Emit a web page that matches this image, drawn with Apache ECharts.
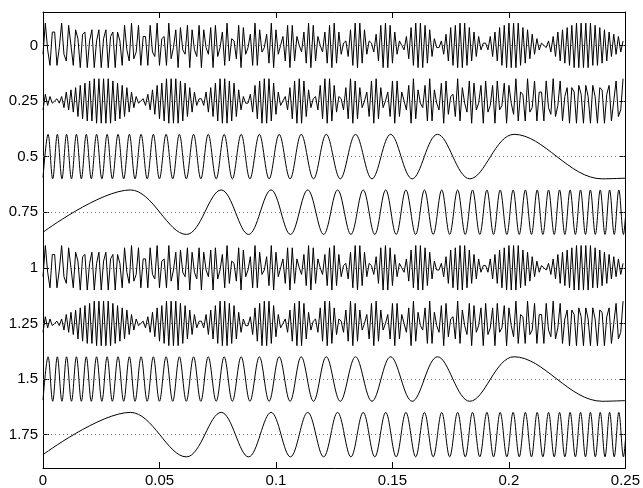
<!DOCTYPE html>
<html>
<head>
<meta charset="utf-8">
<script src="https://cdn.jsdelivr.net/npm/echarts/dist/echarts.min.js"></script>
<style>
  html, body { margin: 0; padding: 0; background: #fff; }
  #chart { width: 643px; height: 488px; }
</style>
</head>
<body>
<div id="chart"></div>
<script>
// rows are 0.25 s slices of the same signal, stacked by start time
const sampleRate = 1000
const rowLevels = [0, 0.25, 0.5, 0.75, 1, 1.25, 1.5, 1.75]
const yTickLabels = ['0', '0.25', '0.5', '0.75', '1', '1.25', '1.5', '1.75']
const xTicks = [0, 0.05, 0.1, 0.15, 0.2, 0.25]
const xTickLabels = ['0', '0.05', '0.1', '0.15', '0.2', '0.25']

// dense rows: one value per sample (1 ms)
const row0Samples = [
  -0.04, 0.10, -0.02, -0.09, 0.06, 0.06, -0.09, -0.01, 0.10, -0.04,
  -0.07, 0.09, 0.00, -0.09, 0.07, 0.03, -0.10, 0.05, 0.06, -0.10,
  0.02, 0.07, -0.10, 0.02, 0.07, -0.10, 0.03, 0.07, -0.10, 0.04,
  0.06, -0.10, 0.06, 0.02, -0.09, 0.09, -0.02, -0.07, 0.10, -0.06,
  -0.03, 0.09, -0.09, 0.04, 0.04, -0.09, 0.09, -0.03, -0.05, 0.10,
  -0.09, 0.03, 0.04, -0.09, 0.10, -0.06, -0.01, 0.07, -0.10, 0.08,
  -0.02, -0.04, 0.09, -0.10, 0.07, -0.02, -0.05, 0.09, -0.10, 0.07,
  -0.01, -0.04, 0.08, -0.10, 0.09, -0.05, -0.01, 0.06, -0.09, 0.10,
  -0.07, 0.03, 0.02, -0.06, 0.09, -0.10, 0.08, -0.04, -0.01, 0.05,
  -0.09, 0.10, -0.09, 0.07, -0.03, -0.01, 0.05, -0.08, 0.10, -0.10,
  0.07, -0.04, 0.00, 0.04, -0.07, 0.09, -0.10, 0.09, -0.07, 0.04,
  0.00, -0.03, 0.06, -0.08, 0.10, -0.10, 0.09, -0.07, 0.04, 0.00,
  -0.03, 0.06, -0.08, 0.09, -0.10, 0.10, -0.08, 0.06, -0.04, 0.01,
  0.02, -0.05, 0.07, -0.09, 0.10, -0.10, 0.10, -0.08, 0.07, -0.04,
  0.02, 0.01, -0.03, 0.05, -0.07, 0.09, -0.10, 0.10, -0.10, 0.09,
  -0.08, 0.06, -0.04, 0.02, 0.00, -0.02, 0.04, -0.06, 0.08, -0.09,
  0.10, -0.10, 0.10, -0.10, 0.09, -0.08, 0.07, -0.05, 0.03, -0.01,
  -0.01, 0.02, -0.04, 0.05, -0.07, 0.08, -0.09, 0.09, -0.10, 0.10,
  -0.10, 0.10, -0.09, 0.08, -0.07, 0.06, -0.05, 0.04, -0.02, 0.01,
  0.01, -0.02, 0.04, -0.05, 0.06, -0.07, 0.08, -0.09, 0.09, -0.10,
  0.10, -0.10, 0.10, -0.10, 0.10, -0.09, 0.08, -0.08, 0.07, -0.06,
  0.05, -0.04, 0.03, -0.02, 0.01, 0.00, -0.01, 0.02, -0.03, 0.04,
  -0.05, 0.06, -0.07, 0.07, -0.08, 0.08, -0.09, 0.09, -0.10, 0.10,
  -0.10, 0.10, -0.10, 0.10, -0.10, 0.10, -0.09, 0.09, -0.09, 0.08,
  -0.08, 0.07, -0.07, 0.06, -0.05, 0.05, -0.04, 0.04, -0.03, 0.02
]

const row25Samples = [
  -0.04, 0.03, -0.02, 0.02, -0.01, 0.00, 0.01, -0.01,
  0.02, -0.03, 0.04, -0.04, 0.05, -0.05, 0.06, -0.07, 0.07, -0.08,
  0.08, -0.09, 0.09, -0.09, 0.10, -0.10, 0.10, -0.10, 0.10, -0.10,
  0.10, -0.10, 0.09, -0.09, 0.08, -0.08, 0.07, -0.07, 0.06, -0.05,
  0.04, -0.03, 0.02, -0.01, 0.00, 0.01, -0.02, 0.03, -0.04, 0.05,
  -0.06, 0.07, -0.08, 0.08, -0.09, 0.10, -0.10, 0.10, -0.10, 0.10,
  -0.10, 0.09, -0.09, 0.08, -0.07, 0.06, -0.05, 0.04, -0.02, 0.01,
  0.01, -0.02, 0.04, -0.05, 0.06, -0.07, 0.08, -0.09, 0.10, -0.10,
  0.10, -0.10, 0.09, -0.09, 0.08, -0.07, 0.05, -0.04, 0.02, -0.01,
  -0.01, 0.03, -0.05, 0.07, -0.08, 0.09, -0.10, 0.10, -0.10, 0.10,
  -0.09, 0.08, -0.06, 0.04, -0.02, 0.00, 0.02, -0.04, 0.06, -0.08,
  0.09, -0.10, 0.10, -0.10, 0.09, -0.07, 0.05, -0.03, 0.01, 0.02,
  -0.04, 0.07, -0.08, 0.10, -0.10, 0.10, -0.09, 0.07, -0.05, 0.02,
  0.01, -0.04, 0.06, -0.08, 0.10, -0.10, 0.09, -0.08, 0.06, -0.03,
  0.00, 0.04, -0.07, 0.09, -0.10, 0.10, -0.08, 0.06, -0.03, 0.00,
  0.04, -0.07, 0.09, -0.10, 0.09, -0.07, 0.04, 0.00, -0.04, 0.07,
  -0.10, 0.10, -0.08, 0.05, -0.01, -0.03, 0.07, -0.09, 0.10, -0.09,
  0.05, -0.01, -0.04, 0.08, -0.10, 0.09, -0.06, 0.02, 0.03, -0.07,
  0.10, -0.09, 0.06, -0.01, -0.05, 0.09, -0.10, 0.08, -0.04, -0.01,
  0.07, -0.10, 0.09, -0.05, -0.02, 0.07, -0.10, 0.09, -0.04, -0.02,
  0.08, -0.10, 0.07, -0.01, -0.06, 0.10, -0.09, 0.04, 0.03, -0.09,
  0.10, -0.05, -0.03, 0.09, -0.09, 0.04, 0.04, -0.09, 0.09, -0.03,
  -0.06, 0.10, -0.07, -0.02, 0.09, -0.09, 0.02, 0.06, -0.10, 0.06,
  0.04, -0.10, 0.07, 0.03, -0.10, 0.07, 0.02, -0.10, 0.07, 0.02,
  -0.10, 0.06, 0.05, -0.10, 0.03, 0.07, -0.09, 0.00, 0.09, -0.07,
  -0.04, 0.10
]

// slow rows: time of each peak / trough (s) and its height
const row50Times = [
  0, 0.00218, 0.00416, 0.00615, 0.00813, 0.01012, 0.01223, 0.01435, 0.01646, 0.01858,
  0.02074, 0.02300, 0.02527, 0.02753, 0.02979, 0.03221, 0.03464, 0.03708, 0.03951, 0.04210,
  0.04473, 0.04736, 0.04998, 0.05284, 0.05569, 0.05854, 0.06152, 0.06463, 0.06774, 0.07093,
  0.07435, 0.07776, 0.08129, 0.08506, 0.08882, 0.09288, 0.09706, 0.10139, 0.10607, 0.11084,
  0.11613, 0.12160, 0.12761, 0.13415, 0.14122, 0.14922, 0.15848, 0.16935, 0.18320, 0.20221,
  0.24000, 0.25
]
const row50Values = [
  -0.095, 0.1, -0.1, 0.1, -0.1, 0.1, -0.1, 0.1, -0.1, 0.1,
  -0.1, 0.1, -0.1, 0.1, -0.1, 0.1, -0.1, 0.1, -0.1, 0.1,
  -0.1, 0.1, -0.1, 0.1, -0.1, 0.1, -0.1, 0.1, -0.1, 0.1,
  -0.1, 0.1, -0.1, 0.1, -0.1, 0.1, -0.1, 0.1, -0.1, 0.1,
  -0.1, 0.1, -0.1, 0.1, -0.1, 0.1, -0.1, 0.1, -0.1, 0.1,
  -0.1, -0.097
]

const row75Times = [
  0, 0.0375, 0.06155, 0.07648, 0.08823, 0.0979, 0.10621, 0.11363, 0.12046, 0.12646,
  0.13217, 0.13745, 0.14242, 0.14711, 0.1516, 0.15578, 0.15997, 0.16374, 0.1675, 0.17115,
  0.17456, 0.17798, 0.18126, 0.18438, 0.18749, 0.19055, 0.1934, 0.19625, 0.1991, 0.2018,
  0.20443, 0.20706, 0.20968, 0.21214, 0.21457, 0.21701, 0.21944, 0.22174, 0.22401, 0.22627,
  0.22853, 0.23074, 0.23286, 0.23497, 0.23709, 0.2392, 0.24124, 0.24322, 0.2452, 0.24718,
  0.24917, 0.25
]
const row75Values = [
  -0.09, 0.1, -0.1, 0.1, -0.1, 0.1, -0.1, 0.1, -0.1, 0.1,
  -0.1, 0.1, -0.1, 0.1, -0.1, 0.1, -0.1, 0.1, -0.1, 0.1,
  -0.1, 0.1, -0.1, 0.1, -0.1, 0.1, -0.1, 0.1, -0.1, 0.1,
  -0.1, 0.1, -0.1, 0.1, -0.1, 0.1, -0.1, 0.1, -0.1, 0.1,
  -0.1, 0.1, -0.1, 0.1, -0.1, 0.1, -0.1, 0.1, -0.1, 0.1,
  -0.1, -0.025
]

const FONT = '"Liberation Sans", Arial, Helvetica, sans-serif'

// y axis is flipped, so a positive value is drawn upwards
function sampledRow(values, level) {
  return values.map((v, i) => [i / sampleRate, level - v])
}
function extremaRow(times, values, level) {
  return times.map((t, i) => [t, level - values[i]])
}

const rows = [
  { level: 0, data: sampledRow(row0Samples, 0), smooth: false },
  { level: 0.25, data: sampledRow(row25Samples, 0.25), smooth: false },
  { level: 0.5, data: extremaRow(row50Times, row50Values, 0.5), smooth: 0.36 },
  { level: 0.75, data: extremaRow(row75Times, row75Values, 0.75), smooth: 0.36 },
  { level: 1, data: sampledRow(row0Samples, 1), smooth: false },
  { level: 1.25, data: sampledRow(row25Samples, 1.25), smooth: false },
  { level: 1.5, data: extremaRow(row50Times, row50Values, 1.5), smooth: 0.36 },
  { level: 1.75, data: extremaRow(row75Times, row75Values, 1.75), smooth: 0.36 }
]

const blackLine = { color: '#000', width: 1 }

function xAxisDef(position, showLabel) {
  return {
    type: 'value',
    position: position,
    min: 0,
    max: 0.25,
    interval: 0.05,
    axisLine: { show: true, onZero: false, lineStyle: blackLine },
    axisTick: { show: true, inside: true, length: 6, lineStyle: blackLine },
    axisLabel: {
      show: showLabel,
      color: '#000',
      fontFamily: FONT,
      fontSize: 15,
      margin: 5,
      formatter: (v) => xTickLabels[xTicks.findIndex((t) => Math.abs(t - v) < 1e-9)]
    },
    splitLine: { show: false }
  }
}

function yAxisDef(position, showLabel) {
  return {
    type: 'value',
    position: position,
    inverse: true,
    min: -0.15,
    max: 1.9,
    axisLine: { show: true, onZero: false, lineStyle: blackLine },
    axisTick: { show: true, inside: true, length: 6, lineStyle: blackLine, customValues: rowLevels },
    axisLabel: {
      show: showLabel,
      color: '#000',
      fontFamily: FONT,
      fontSize: 15,
      margin: 5,
      customValues: rowLevels,
      formatter: (v) => yTickLabels[rowLevels.indexOf(v)]
    },
    splitLine: { show: false }
  }
}

const chart = echarts.init(document.getElementById('chart'))
chart.setOption({
  animation: false,
  backgroundColor: '#fff',
  grid: { left: 43, right: 17, top: 12, bottom: 20 },
  xAxis: [xAxisDef('bottom', true), xAxisDef('top', false)],
  yAxis: [yAxisDef('left', true), yAxisDef('right', false)],
  series: rows.map((row, i) => ({
    type: 'line',
    xAxisIndex: 0,
    yAxisIndex: 0,
    data: row.data,
    smooth: row.smooth,
    symbol: 'none',
    silent: true,
    lineStyle: blackLine,
    z: 3,
    // dotted baselines, drawn once
    markLine: i === 0 ? {
      silent: true,
      symbol: ['none', 'none'],
      label: { show: false },
      lineStyle: { color: '#777', width: 1, type: [1, 3] },
      data: rowLevels.map((v) => ({ yAxis: v })),
      z: 1
    } : undefined
  }))
})
</script>
</body>
</html>
